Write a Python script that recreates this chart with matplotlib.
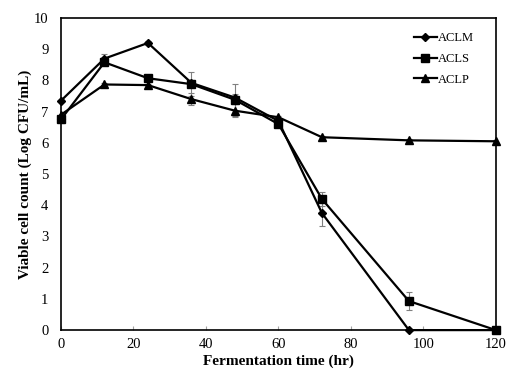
import matplotlib
matplotlib.use('Agg')
import matplotlib.pyplot as plt

hours = [0, 12, 24, 36, 48, 60, 72, 96, 120]

aclm = [7.35, 8.7, 9.2, 7.92, 7.45, 6.7, 3.75, 0.0, 0.0]
aclm_err = [0.05, 0.15, 0.05, 0.1, 0.1, 0.05, 0.4, 0.0, 0.0]

acls = [6.75, 8.58, 8.07, 7.88, 7.38, 6.6, 4.2, 0.93, 0.0]
acls_err = [0.1, 0.1, 0.1, 0.38, 0.52, 0.05, 0.22, 0.3, 0.0]

aclp = [6.9, 7.87, 7.85, 7.4, 7.03, 6.82, 6.18, 6.08, 6.05]
aclp_err = [0.1, 0.05, 0.05, 0.2, 0.2, 0.05, 0.05, 0.05, 0.05]

plt.rcParams['font.family'] = ['Liberation Serif', 'DejaVu Serif']

fig = plt.figure(figsize=(5.27, 3.79), dpi=100)
ax = fig.add_axes([0.1157, 0.129, 0.8253, 0.8235])

series = [
    ('ACLM', aclm, aclm_err, 'D', 4),
    ('ACLS', acls, acls_err, 's', 6),
    ('ACLP', aclp, aclp_err, '^', 6),
]
for label, ys, err, marker, ms in series:
    ax.errorbar(hours, ys, yerr=err, fmt='none', ecolor='#808080',
                elinewidth=0.8, capsize=2.5, capthick=0.8, zorder=2)
    ax.plot(hours, ys, color='black', marker=marker, markersize=ms,
            linewidth=1.6, label=label, zorder=3, clip_on=False)

ax.set_xlim(0, 120)
ax.set_ylim(0, 10)
ax.set_xticks(range(0, 121, 20))
ax.set_yticks(range(0, 11))
ax.tick_params(axis='x', direction='in', length=3, color='#a0a0a0',
               labelsize=10.5, pad=6)
ax.tick_params(axis='y', direction='in', length=0, labelsize=10.5, pad=9)
for s in ax.spines.values():
    s.set_linewidth(1.2)

ax.set_xlabel('Fermentation time (hr)', fontsize=11, fontweight='bold', labelpad=2)
ax.set_ylabel('Viable cell count (Log CFU/mL)', fontsize=11, fontweight='bold', labelpad=1)

ax.legend(loc='upper right', bbox_to_anchor=(0.975, 0.99), frameon=False,
          fontsize=9, handlelength=1.8, handletextpad=0.1, labelspacing=0.7)

fig.savefig('out.png', dpi=100)
